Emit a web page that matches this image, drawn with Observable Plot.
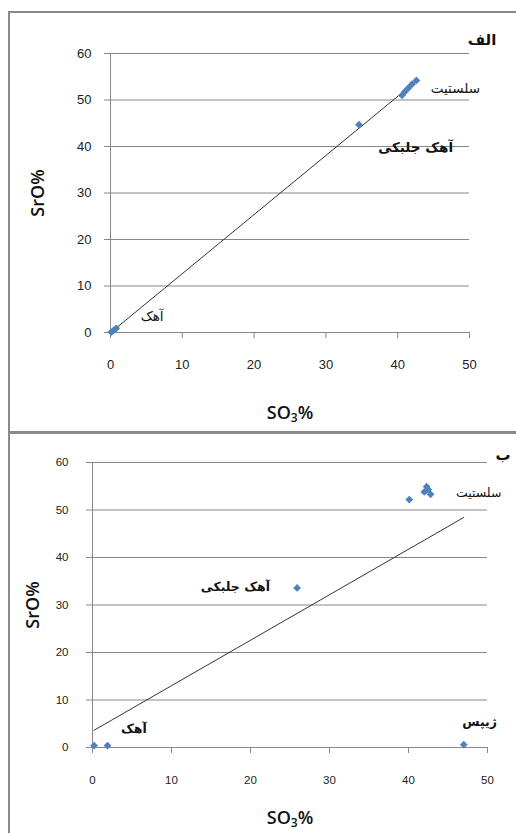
<!DOCTYPE html>
<html><head><meta charset="utf-8">
<script src="https://cdn.jsdelivr.net/npm/d3@7"></script>
<script src="https://cdn.jsdelivr.net/npm/@observablehq/plot@0.6"></script>
<style>
body{margin:0;background:#fff;}
#wrap{position:relative;width:516px;height:833px;overflow:hidden;font-family:"Liberation Sans",Arial,"DejaVu Sans",sans-serif;}
.b{position:absolute;background:#8a8a8a;}
.box{position:absolute;}
.t{position:absolute;transform:translate(-50%,-50%);white-space:nowrap;color:#111;}
.ax{font-family:"Open Sans",sans-serif;font-weight:600;font-size:18px;}
.ax sub{font-size:12px;vertical-align:-3px;}
.pl{font-family:"DejaVu Sans",sans-serif;font-weight:bold;font-size:15px;}
</style></head>
<body><div id="wrap"></div>
<script>
// ---- data ----
const xTicks = [0, 10, 20, 30, 40, 50];
const yTicks = [0, 10, 20, 30, 40, 50, 60];

// panel الف
const topSO3 = [0.1, 0.4, 0.8, 34.6, 40.6, 41.0, 41.5, 42.0, 42.6];
const topSrO = [0.1, 0.4, 0.9, 44.7, 51.0, 51.8, 52.6, 53.4, 54.2];
const topLabels = ["سلستیت", "آهک جلبکی", "آهک"];
const topLabelX = [44.6, 37.3, 4.2];
const topLabelY = [52.5, 39.8, 3.4];
const topLabelBold = [false, true, false];

// panel ب
const botSO3 = [0.2, 1.9, 25.9, 40.1, 42.3, 42.0, 42.8, 42.5, 47.0];
const botSrO = [0.4, 0.4, 33.6, 52.2, 54.9, 53.8, 53.3, 54.3, 0.6];
const botLabels = ["سلستیت", "آهک جلبکی", "آهک", "ژیپس"];
const botLabelX = [46.0, 13.7, 3.6, 46.8];
const botLabelY = [53.5, 33.7, 4.0, 5.3];
const botLabelBold = [false, true, true, true];

const GRAY = "#878787";

function panel(c) {
  const pts = c.so3.map((x, i) => ({x, y: c.sro[i]}));
  const lab = c.labels.map((t, i) => ({t, x: c.lx[i], y: c.ly[i], b: c.lb[i]}));
  const textOpts = {x: "x", y: "y", text: "t", textAnchor: "start", fill: "#111",
    fontFamily: "'DejaVu Sans', sans-serif", fontSize: c.lfs};
  return Plot.plot({
    width: c.width, height: c.height,
    marginLeft: c.ml, marginRight: c.mr, marginTop: c.mt, marginBottom: c.mb,
    x: {domain: [0, 50]},
    y: {domain: [0, 60]},
    style: {fontFamily: "'Liberation Sans', Arial, sans-serif", fontSize: c.fs + "px", color: "#222", background: "transparent", overflow: "visible"},
    marks: [
      Plot.gridY(yTicks, {stroke: GRAY, strokeOpacity: 1}),
      Plot.axisY(yTicks, {tickSize: 6, tickPadding: c.padY, stroke: GRAY, label: null, fontSize: c.fs}),
      Plot.ruleX([0], {stroke: GRAY}),
      Plot.axisX(xTicks, {tickSize: 6, tickPadding: c.padX, stroke: GRAY, label: null, fontSize: c.fs}),
      Plot.linearRegressionY(pts, {x: "x", y: "y", stroke: "#333", strokeWidth: 1, ci: 0}),
      Plot.dot(pts, {x: "x", y: "y", symbol: "diamond2", r: c.r, fill: "#4f81bd"}),
      Plot.text(lab.filter(d => !d.b), {...textOpts, fontWeight: "normal"}),
      Plot.text(lab.filter(d => d.b), {...textOpts, fontWeight: "bold"})
    ]
  });
}

const wrap = document.getElementById("wrap");
function add(html) { wrap.insertAdjacentHTML("beforeend", html); }

// borders
add('<div class="b" style="left:8px;top:11px;width:508px;height:2px"></div>');
add('<div class="b" style="left:8px;top:11px;width:2px;height:822px"></div>');
add('<div class="b" style="left:8px;top:431px;width:508px;height:3px"></div>');

const top1 = panel({so3: topSO3, sro: topSrO, labels: topLabels, lx: topLabelX, ly: topLabelY, lb: topLabelBold,
  width: 507, height: 420, ml: 101, mr: 47, mt: 41, mb: 100, fs: 13, padX: 21, padY: 13, r: 3.5, lfs: 13.5});
const d1 = document.createElement("div"); d1.className = "box"; d1.style.left = "9px"; d1.style.top = "12px";
d1.appendChild(top1); wrap.appendChild(d1);

const bot1 = panel({so3: botSO3, sro: botSrO, labels: botLabels, lx: botLabelX, ly: botLabelY, lb: botLabelBold,
  width: 507, height: 399, ml: 83, mr: 29, mt: 28, mb: 86, fs: 11.5, padX: 22, padY: 18, r: 3.5, lfs: 12.5});
const d2 = document.createElement("div"); d2.className = "box"; d2.style.left = "9px"; d2.style.top = "434px";
d2.appendChild(bot1); wrap.appendChild(d2);

// axis titles & panel labels
add('<div class="t ax" style="left:290px;top:413px">SO<sub>3</sub>%</div>');
add('<div class="t ax" style="left:37px;top:193px;transform:translate(-50%,-50%) rotate(-90deg)">SrO%</div>');
add('<div class="t pl" style="left:482px;top:40px">الف</div>');
add('<div class="t ax" style="left:290px;top:818px">SO<sub>3</sub>%</div>');
add('<div class="t ax" style="left:32px;top:605px;transform:translate(-50%,-50%) rotate(-90deg)">SrO%</div>');
add('<div class="t pl" style="left:503px;top:455px">ب</div>');
</script></body></html>
